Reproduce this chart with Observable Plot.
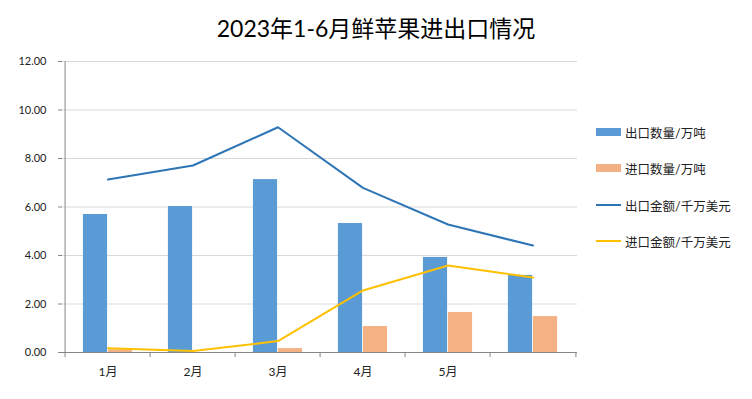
<!DOCTYPE html>
<html>
<head>
<meta charset="utf-8">
<script src="https://cdn.jsdelivr.net/npm/d3@7"></script>
<script src="https://cdn.jsdelivr.net/npm/@observablehq/plot@0.6"></script>
<style>
  html, body { margin: 0; padding: 0; background: #fff; }
  #wrap { position: relative; width: 752px; height: 399px; font-family: Lato, "Noto Sans CJK SC", sans-serif; }
  #title { position: absolute; left: 0; top: 10px; width: 752px; text-align: center; font-size: 23px; line-height: 36px; color: #000; }
  #chart { position: absolute; left: 0; top: 45px; }
  .leg { position: absolute; left: 596px; height: 20px; display: flex; align-items: center; font-size: 12.5px; color: #222; white-space: nowrap; }
  .sw { width: 25px; margin-right: 4px; }
</style>
</head>
<body>
<div id="wrap">
  <div id="title">2023年1-6月鲜苹果进出口情况</div>
  <div id="chart"></div>
  <div id="legend"></div>
</div>
<script>
const months = ["1月", "2月", "3月", "4月", "5月", "6月"];
const tickLabels = ["1月", "2月", "3月", "4月", "5月", ""];
const exportQty = [5.69, 6.02, 7.13, 5.32, 3.92, 3.18];
const importQty = [0.11, 0.0, 0.16, 1.07, 1.65, 1.48];
const exportAmt = [7.13, 7.71, 9.29, 6.79, 5.28, 4.41];
const importAmt = [0.18, 0.06, 0.47, 2.56, 3.59, 3.09];
const yTicks = [0, 2, 4, 6, 8, 10, 12];
const seriesNames = ["出口数量/万吨", "进口数量/万吨", "出口金额/千万美元", "进口金额/千万美元"];
const seriesColors = ["#5B9BD5", "#F4B183", "#2E75B6", "#FFC000"];

const data = months.map((m, i) => ({
  month: m, exportQty: exportQty[i], importQty: importQty[i],
  exportAmt: exportAmt[i], importAmt: importAmt[i]
}));

const W = 752, H = 354, mL = 62, mR = 175, mT = 16, mB = 47;
const band = (W - mL - mR) / months.length;
const half = band / 2;
const barW = 25;

const chart = Plot.plot({
  width: W, height: H,
  marginLeft: mL, marginRight: mR, marginTop: mT, marginBottom: mB,
  style: { fontFamily: 'Lato, "Noto Sans CJK SC", sans-serif', background: "#fff" },
  x: { type: "band", domain: months, padding: 0, axis: null },
  y: { domain: [0, 12], axis: null },
  marks: [
    Plot.gridY(yTicks, { stroke: "#D9D9D9", strokeOpacity: 1 }),
    Plot.barY(data, { x: "month", y: "exportQty", fill: seriesColors[0], insetLeft: half - barW, insetRight: half }),
    Plot.barY(data, { x: "month", y: "importQty", fill: seriesColors[1], insetLeft: half, insetRight: half - barW }),
    Plot.line(data, { x: "month", y: "exportAmt", stroke: seriesColors[2], strokeWidth: 2 }),
    Plot.line(data, { x: "month", y: "importAmt", stroke: seriesColors[3], strokeWidth: 2 }),
    Plot.ruleY([0], { stroke: "#868686" }),
    Plot.ruleX([months[0]], { x: d => d, dx: -half, y1: 0, y2: 12, stroke: "#868686" }),
    Plot.ruleX(months, { x: d => d, dx: -half, y1: 0, y2: -0.21, stroke: "#868686" }),
    Plot.ruleX([months[months.length - 1]], { x: d => d, dx: half, y1: 0, y2: -0.21, stroke: "#868686" }),
    Plot.axisY(yTicks, { tickSize: 4, tickPadding: 12, tickFormat: d3.format(".2f"), stroke: "#868686", fill: "#222", fontSize: 11, label: null }),
    Plot.axisX({ tickSize: 0, tickPadding: 15, tickFormat: d => tickLabels[months.indexOf(d)], fill: "#222", fontSize: 12, label: null })
  ]
});
document.getElementById("chart").appendChild(chart);

const legendTops = [122, 158, 195, 231];
const legend = document.getElementById("legend");
seriesNames.forEach((name, i) => {
  const row = document.createElement("div");
  row.className = "leg";
  row.style.top = legendTops[i] + "px";
  const sw = document.createElement("span");
  sw.className = "sw";
  sw.style.background = seriesColors[i];
  sw.style.height = i < 2 ? "8px" : "2.5px";
  row.appendChild(sw);
  const t = document.createElement("span");
  t.textContent = name;
  row.appendChild(t);
  legend.appendChild(row);
});
</script>
</body>
</html>
